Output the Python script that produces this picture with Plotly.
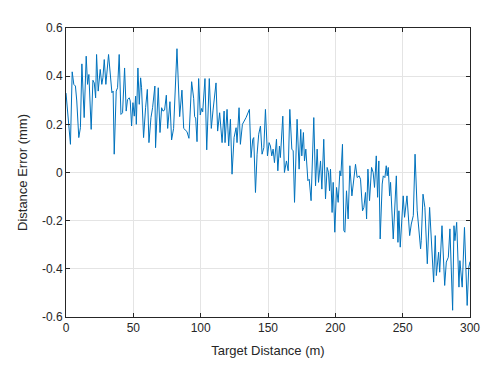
import plotly.graph_objects as go

distance_m = [
    0, 3.3, 4.6, 5.8, 7.0, 8.0, 9.5, 10.7, 11.8, 13.5, 15.0, 16.0, 17.0, 18.7, 20.0, 21.0, 22.0, 22.7,
    23.9, 25.4, 26.6, 27.4, 28.4, 29.6, 31.6, 32.8, 34.1, 35.0, 35.8,
    37.3, 38.3, 39.5, 40.8, 42.0, 43.5, 44.7, 45.7, 47.0, 47.7, 48.7, 49.7, 50.7, 51.7, 52.2, 53.4,
    54.4, 55.4, 56.1, 57.6, 59.1, 60.4, 61.6, 63.1, 64.3, 65.3, 66.0, 66.5, 67.5, 68.5, 69.8, 71.0, 72.0,
    73.2, 74.5, 75.5, 77.2, 78.4, 79.9, 82.4, 84.4, 86.1, 87.4, 88.9, 89.8, 91.3, 93.3, 94.8, 95.5,
    96.3, 97.3, 98.5, 99.7, 100.7, 101.5, 103.2, 104.5, 106.4, 107.9, 109.2,
    111.4, 112.6, 114.1, 115.9, 117.4, 118.1, 119.6, 120.8, 122.1, 123.3, 124.8, 126.3, 127.0, 128.5,
    129.5, 131.0, 132.5, 133.7, 136.2, 137.4, 138.7, 139.4, 140.7, 141.9, 143.1, 144.4, 145.6, 146.9,
    148.1, 149.6, 150.8, 151.8, 152.8, 153.8, 154.8, 156.3, 157.3, 158.5, 159.2, 161.0, 162.2, 163.7,
    165.0, 166.2, 167.7, 168.7, 169.7, 170.9, 171.6, 173.1, 174.3, 175.1, 176.3, 177.1, 178.1, 179.6,
    180.6, 182.0,
    184.0, 185.3, 186.5, 187.5, 189.0, 190.0, 191.4, 192.7, 193.9, 194.9, 195.7, 196.4, 197.6, 198.4,
    199.6, 200.9, 202.1, 203.4, 204.1, 205.3, 206.3, 207.1, 208.3, 209.5, 210.8, 212.3, 215.0, 216.2,
    217.7, 218.7, 220.2,
    221.2, 222.4, 223.2, 224.2, 225.4, 226.9, 228.1, 229.1, 230.4, 231.4, 232.3, 233.3, 234.8, 235.6,
    236.8, 237.8, 238.5, 239.3, 240.3, 241.0, 243.0, 245.3, 246.5, 247.2, 248.2, 250.4, 251.4, 253.2,
    255.2, 256.4, 257.9, 259.2,
    260.8, 263.3, 263.8, 265.1, 266.5, 268.3, 270.0, 271.3, 273.0, 274.2, 275.0, 276.7, 277.5, 279.2,
    281.2, 282.4, 283.9, 285.1, 287.1, 288.1, 288.8, 290.1, 291.8, 292.5, 293.5, 294.2, 295.9, 297.9,
    299.1, 300.0,
]

error_mm = [
    0.33, 0.117, 0.418, 0.366, 0.359, 0.297, 0.145, 0.186, 0.451, 0.228, 0.483, 0.366, 0.407, 0.179,
    0.383, 0.372, 0.31, 0.49,
    0.338, 0.428, 0.366, 0.393, 0.469, 0.366, 0.49, 0.407, 0.331, 0.338, 0.076,
    0.338, 0.352, 0.49, 0.241, 0.248, 0.434, 0.255, 0.303, 0.31, 0.297, 0.193, 0.29, 0.234, 0.317,
    0.2, 0.434,
    0.283, 0.393, 0.352, 0.145, 0.269, 0.345, 0.124, 0.228, 0.269, 0.338, 0.359, 0.103, 0.269, 0.352,
    0.166, 0.269, 0.255,
    0.259, 0.321, 0.183, 0.294, 0.135, 0.183, 0.514, 0.232, 0.342, 0.183, 0.177, 0.17, 0.142, 0.377,
    0.308, 0.232,
    0.226, 0.128, 0.39, 0.239, 0.266, 0.252, 0.39, 0.094, 0.39, 0.183, 0.259,
    0.372, 0.172, 0.248, 0.124, 0.255, 0.124, 0.262, 0.11, 0.221, -0.007, 0.145, 0.186, 0.124, 0.269,
    0.117, 0.2, 0.214, 0.228, 0.262, 0.062, 0.138, 0.145, -0.083, 0.076, 0.159, 0.193, 0.076, 0.103,
    0.262, 0.069, 0.124, 0.11, 0.069, 0.097, 0.041, 0.138, 0.007, 0.11, 0.062, 0.234, 0.0, 0.048,
    0.007, 0.262, 0.097, 0.09, -0.124, 0.11, 0.221, 0.014, 0.179, 0.069, 0.166, 0.048, 0.097, -0.034,
    -0.028, -0.117,
    0.228, -0.055, 0.097, -0.041, 0.048, -0.069, 0.138, -0.11, 0.021, 0.0, -0.076, 0.014, -0.166,
    -0.041,
    -0.248, -0.062, -0.124, 0.007, -0.014, 0.117, -0.241, -0.248, -0.076, -0.193, 0.028, -0.097, 0.034,
    -0.021,
    -0.014, -0.028, -0.159,
    -0.145, -0.083, -0.193, 0.014, -0.117, 0.021, 0.0, -0.062, 0.069, -0.103, 0.048, -0.276, -0.048,
    -0.014,
    -0.021, 0.028, -0.014, 0.021, -0.097, -0.041, -0.276, -0.014, -0.29, -0.159, -0.31, -0.097, -0.186,
    -0.097,
    -0.262, -0.214, -0.179, 0.076,
    -0.159, -0.317, -0.283, -0.09, -0.145, -0.379, -0.145, -0.276, -0.455, -0.262, -0.428, -0.331,
    -0.414, -0.221,
    -0.469, -0.372, -0.352, -0.234, -0.572, -0.221, -0.283, -0.207, -0.476, -0.366, -0.421, -0.476,
    -0.228, -0.552,
    -0.393, -0.37,
]

x_ticks = [0, 50, 100, 150, 200, 250, 300]
y_ticks = [-0.6, -0.4, -0.2, 0, 0.2, 0.4, 0.6]
y_tick_text = ["-0.6", "-0.4", "-0.2", "0", "0.2", "0.4", "0.6"]

axis_color = "#262626"
grid_color = "#e4e4e4"
font_family = "Liberation Sans, Arial, sans-serif"

fig = go.Figure()
fig.add_trace(go.Scatter(
    x=distance_m, y=error_mm, mode="lines",
    line=dict(color="#0072BD", width=1),
    hoverinfo="skip", showlegend=False,
))

common = dict(
    showline=True, linecolor=axis_color, linewidth=1, mirror="ticks",
    ticks="inside", ticklen=4, tickcolor=axis_color, tickwidth=1,
    showgrid=True, gridcolor=grid_color, gridwidth=1, zeroline=False,
    tickfont=dict(family=font_family, size=12, color=axis_color),
)

fig.update_xaxes(
    range=[0, 300], tickvals=x_ticks,
    title=dict(text="Target Distance (m)", font=dict(family=font_family, size=13, color=axis_color), standoff=11),
    **common,
)
fig.update_yaxes(
    range=[-0.6, 0.6], tickvals=y_ticks, ticktext=y_tick_text,
    title=dict(text="Distance Error (mm)", font=dict(family=font_family, size=13, color=axis_color), standoff=11),
    **common,
)

# The page body has an 8px default margin, so the figure is sized to fit the window.
fig.update_layout(
    width=483, height=361,
    margin=dict(l=58, r=21, t=20, b=52),
    paper_bgcolor="white", plot_bgcolor="white",
    font=dict(family=font_family, color=axis_color),
)

fig.write_html("out.html")
